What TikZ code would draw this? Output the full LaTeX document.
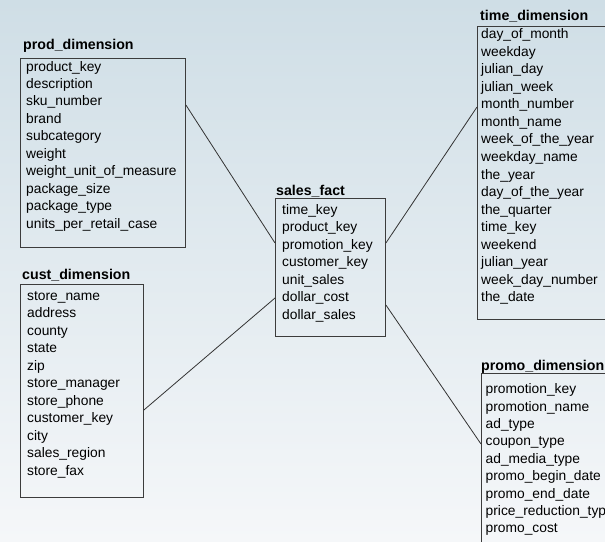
\documentclass[tikz,border=0pt]{standalone}
\usepackage{fontspec}
\setmainfont{Liberation Sans}
\definecolor{bgtop}{RGB}{207,222,230}
\definecolor{bgbot}{RGB}{245,247,249}
\definecolor{edge}{RGB}{60,60,60}
\begin{document}
\begin{tikzpicture}[x=1pt,y=-1pt,
  tbl/.style={draw=edge, line width=0.9pt, rectangle, inner sep=0pt, anchor=north west},
  row/.style={anchor=base west, inner sep=0pt, font=\fontsize{13.8}{15}\selectfont, text=black},
  ttl/.style={anchor=base west, inner sep=0pt, font=\fontsize{14.2}{15}\selectfont\bfseries, text=black},
  link/.style={draw=black!80, line width=0.8pt}]
\clip (0,0) rectangle (605,541);
\shade[top color=bgtop, bottom color=bgbot] (0,0) rectangle (605,541);
% boxes
\node[tbl, minimum width=165pt, minimum height=189pt] (prod) at (20,58) {};
\node[tbl, minimum width=123pt, minimum height=213pt] (cust) at (20,284) {};
\node[tbl, minimum width=110pt, minimum height=138pt] (sales) at (275,198) {};
\node[tbl, minimum width=140pt, minimum height=293pt] (time) at (477,26) {};
\node[tbl, minimum width=140pt, minimum height=190pt] (promo) at (481,373) {};
% titles
\node[ttl] (prodT) at (23,49) {prod\_dimension};
\node[ttl] (custT) at (22,279.3) {cust\_dimension};
\node[ttl] (salesT) at (276,195) {sales\_fact};
\node[ttl] (timeT) at (480,20.7) {time\_dimension};
\node[ttl] (promoT) at (481,370) {promo\_dimension};
% rows
\foreach \t [count=\i] in {product\_key,description,sku\_number,brand,subcategory,weight,weight\_unit\_of\_measure,package\_size,package\_type,units\_per\_retail\_case}
  \node[row] (prod-\i) at (26,{71+(\i-1)*17.45}) {\t};
\foreach \t [count=\i] in {store\_name,address,county,state,zip,store\_manager,store\_phone,customer\_key,city,sales\_region,store\_fax}
  \node[row] (cust-\i) at (27,{300.3+(\i-1)*17.5}) {\t};
\foreach \t [count=\i] in {time\_key,product\_key,promotion\_key,customer\_key,unit\_sales,dollar\_cost,dollar\_sales}
  \node[row] (sales-\i) at (282,{214.3+(\i-1)*17.5}) {\t};
\foreach \t [count=\i] in {day\_of\_month,weekday,julian\_day,julian\_week,month\_number,month\_name,week\_of\_the\_year,weekday\_name,the\_year,day\_of\_the\_year,the\_quarter,time\_key,weekend,julian\_year,week\_day\_number,the\_date}
  \node[row] (time-\i) at (481,{38.6+(\i-1)*17.55}) {\t};
\foreach \t [count=\i] in {promotion\_key,promotion\_name,ad\_type,coupon\_type,ad\_media\_type,promo\_begin\_date,promo\_end\_date,price\_reduction\_typ,promo\_cost}
  \node[row] (promo-\i) at (485.5,{393.6+(\i-1)*17.4}) {\t};
% connectors
\draw[link] ([yshift=-47pt]prod.north east) -- ([yshift=-45pt]sales.north west);
\draw[link] ([yshift=-126pt]cust.north east) -- ([yshift=-100pt]sales.north west);
\draw[link] ([yshift=-45pt]sales.north east) -- ([yshift=-81pt]time.north west);
\draw[link] ([yshift=-107pt]sales.north east) -- ([yshift=-71pt]promo.north west);
\end{tikzpicture}
\end{document}
